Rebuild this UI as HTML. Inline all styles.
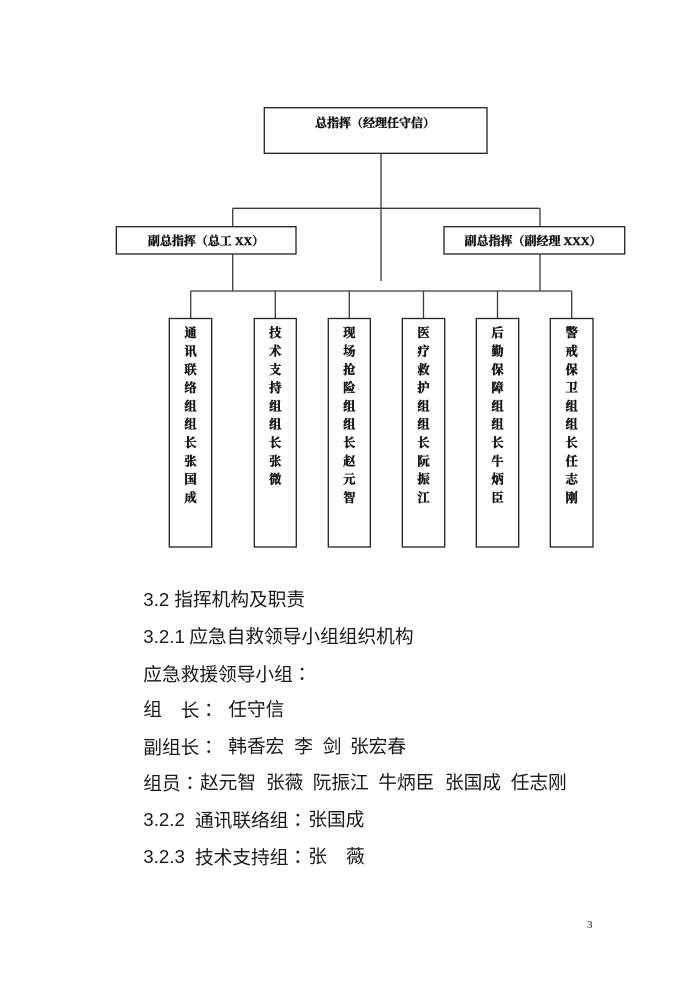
<!DOCTYPE html>
<html>
<head>
<meta charset="utf-8">
<style>
html,body{margin:0;padding:0;background:#fff;}
body{width:700px;height:990px;position:relative;overflow:hidden;}
svg{position:absolute;left:0;top:0;}
.t{position:absolute;white-space:pre;font-family:"Liberation Sans","Noto Sans CJK SC",sans-serif;font-size:18.7px;line-height:20px;color:#1a1a1a;}
.c{font-family:"Noto Sans CJK TC","Noto Sans CJK SC",sans-serif;}
.pn{position:absolute;left:587px;top:918px;font-family:"Liberation Serif",serif;font-size:11px;line-height:14px;color:#222;}
</style>
</head>
<body>
<svg width="700" height="990" viewBox="0 0 700 990" xmlns="http://www.w3.org/2000/svg">
  <g stroke="#3a3a3a" stroke-width="1.3" fill="none">
    <rect x="264.3" y="107.7" width="222.7" height="45.6" stroke="#222"/>
    <line x1="381" y1="153.3" x2="381" y2="281"/>
    <line x1="232.7" y1="208.3" x2="540" y2="208.3"/>
    <line x1="232.7" y1="208.3" x2="232.7" y2="226.7"/>
    <line x1="540" y1="208.3" x2="540" y2="226.7"/>
    <rect x="116.3" y="226.7" width="179.7" height="27.3" stroke="#222"/>
    <rect x="444" y="226.7" width="180.7" height="27.3" stroke="#222"/>
    <line x1="232.7" y1="254" x2="232.7" y2="291"/>
    <line x1="540" y1="254" x2="540" y2="291"/>
    <line x1="190.7" y1="291" x2="571.7" y2="291"/>
    <line x1="190.7" y1="291" x2="190.7" y2="318.5"/>
    <line x1="275.3" y1="291" x2="275.3" y2="318.5"/>
    <line x1="349.3" y1="291" x2="349.3" y2="318.5"/>
    <line x1="423.5" y1="291" x2="423.5" y2="318.5"/>
    <line x1="497.5" y1="291" x2="497.5" y2="318.5"/>
    <line x1="571.7" y1="291" x2="571.7" y2="318.5"/>
    <g stroke="#222">
      <rect x="169.3" y="318.5" width="42.4" height="228.5"/>
      <rect x="254.3" y="318.5" width="42" height="228.5"/>
      <rect x="328.3" y="318.5" width="42" height="228.5"/>
      <rect x="402.3" y="318.5" width="42.4" height="228.5"/>
      <rect x="476.3" y="318.5" width="42.4" height="228.5"/>
      <rect x="550.3" y="318.5" width="42.7" height="228.5"/>
    </g>
  </g>
  <g font-family="'Liberation Serif','Noto Serif CJK SC',serif" font-weight="bold" font-size="12" fill="#111" stroke="#111" stroke-width="0.4" text-anchor="middle">
    <text x="375" y="127.2">总指挥（经理任守信）</text>
    <text x="206" y="245.2">副总指挥（总工 XX）</text>
    <text x="533" y="245.2">副总指挥（副经理 XXX）</text>
  </g>
  <g font-family="'Liberation Serif','Noto Serif CJK SC',serif" font-weight="bold" font-size="12.3" fill="#111" stroke="#111" stroke-width="0.4" text-anchor="middle">
    <text x="190.5"><tspan x="190.5" y="337.2">通</tspan><tspan x="190.5" y="355.5">讯</tspan><tspan x="190.5" y="373.8">联</tspan><tspan x="190.5" y="392.1">络</tspan><tspan x="190.5" y="410.4">组</tspan><tspan x="190.5" y="428.7">组</tspan><tspan x="190.5" y="447">长</tspan><tspan x="190.5" y="465.3">张</tspan><tspan x="190.5" y="483.6">国</tspan><tspan x="190.5" y="501.9">成</tspan></text>
    <text x="275.3"><tspan x="275.3" y="337.2">技</tspan><tspan x="275.3" y="355.5">术</tspan><tspan x="275.3" y="373.8">支</tspan><tspan x="275.3" y="392.1">持</tspan><tspan x="275.3" y="410.4">组</tspan><tspan x="275.3" y="428.7">组</tspan><tspan x="275.3" y="447">长</tspan><tspan x="275.3" y="465.3">张</tspan><tspan x="275.3" y="483.6">微</tspan></text>
    <text x="349.3"><tspan x="349.3" y="337.2">现</tspan><tspan x="349.3" y="355.5">场</tspan><tspan x="349.3" y="373.8">抢</tspan><tspan x="349.3" y="392.1">险</tspan><tspan x="349.3" y="410.4">组</tspan><tspan x="349.3" y="428.7">组</tspan><tspan x="349.3" y="447">长</tspan><tspan x="349.3" y="465.3">赵</tspan><tspan x="349.3" y="483.6">元</tspan><tspan x="349.3" y="501.9">智</tspan></text>
    <text x="423.5"><tspan x="423.5" y="337.2">医</tspan><tspan x="423.5" y="355.5">疗</tspan><tspan x="423.5" y="373.8">救</tspan><tspan x="423.5" y="392.1">护</tspan><tspan x="423.5" y="410.4">组</tspan><tspan x="423.5" y="428.7">组</tspan><tspan x="423.5" y="447">长</tspan><tspan x="423.5" y="465.3">阮</tspan><tspan x="423.5" y="483.6">振</tspan><tspan x="423.5" y="501.9">江</tspan></text>
    <text x="497.5"><tspan x="497.5" y="337.2">后</tspan><tspan x="497.5" y="355.5">勤</tspan><tspan x="497.5" y="373.8">保</tspan><tspan x="497.5" y="392.1">障</tspan><tspan x="497.5" y="410.4">组</tspan><tspan x="497.5" y="428.7">组</tspan><tspan x="497.5" y="447">长</tspan><tspan x="497.5" y="465.3">牛</tspan><tspan x="497.5" y="483.6">炳</tspan><tspan x="497.5" y="501.9">臣</tspan></text>
    <text x="571.7"><tspan x="571.7" y="337.2">警</tspan><tspan x="571.7" y="355.5">戒</tspan><tspan x="571.7" y="373.8">保</tspan><tspan x="571.7" y="392.1">卫</tspan><tspan x="571.7" y="410.4">组</tspan><tspan x="571.7" y="428.7">组</tspan><tspan x="571.7" y="447">长</tspan><tspan x="571.7" y="465.3">任</tspan><tspan x="571.7" y="483.6">志</tspan><tspan x="571.7" y="501.9">刚</tspan></text>
  </g>
</svg>

<div class="t" style="left:143.3px;top:590px;">3.2</div>
<div class="t" style="left:174.3px;top:590px;">指挥机构及职责</div>
<div class="t" style="left:143.3px;top:626.7px;">3.2.1</div>
<div class="t" style="left:189.3px;top:626.7px;">应急自救领导小组组织机构</div>
<div class="t" style="left:143.3px;top:664.3px;">应急救援领导小组<span class="c">：</span></div>
<div class="t" style="left:143.3px;top:700px;">组</div>
<div class="t" style="left:180.7px;top:700px;">长<span class="c">：</span></div>
<div class="t" style="left:228.3px;top:700px;">任守信</div>
<div class="t" style="left:143.3px;top:736.7px;">副组长<span class="c">：</span></div>
<div class="t" style="left:228.3px;top:736.7px;">韩香宏</div>
<div class="t" style="left:294.3px;top:736.7px;">李</div>
<div class="t" style="left:322.7px;top:736.7px;">剑</div>
<div class="t" style="left:350px;top:736.7px;">张宏春</div>
<div class="t" style="left:143.3px;top:773.3px;">组员<span class="c">：</span></div>
<div class="t" style="left:200px;top:773.3px;">赵元智</div>
<div class="t" style="left:266px;top:773.3px;">张薇</div>
<div class="t" style="left:312.7px;top:773.3px;">阮振江</div>
<div class="t" style="left:378.3px;top:773.3px;">牛炳臣</div>
<div class="t" style="left:445px;top:773.3px;">张国成</div>
<div class="t" style="left:510.7px;top:773.3px;">任志刚</div>
<div class="t" style="left:143.3px;top:810px;">3.2.2</div>
<div class="t" style="left:195px;top:810px;">通讯联络组<span class="c">：</span></div>
<div class="t" style="left:308.3px;top:810px;">张国成</div>
<div class="t" style="left:143.3px;top:846.7px;">3.2.3</div>
<div class="t" style="left:195px;top:846.7px;">技术支持组<span class="c">：</span></div>
<div class="t" style="left:308.3px;top:846.7px;">张</div>
<div class="t" style="left:346px;top:846.7px;">薇</div>

<div class="pn">3</div>
</body>
</html>
